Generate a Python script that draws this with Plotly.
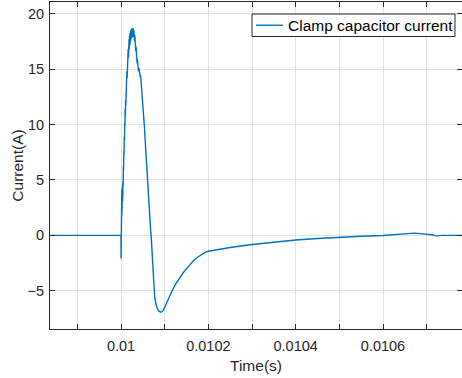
import plotly.graph_objects as go

# Clamp capacitor current waveform, time given in microseconds after t = 10 ms
time_us = [
    -170.0, -0.5, 0.0, 0.15, 0.3, 0.45, 0.6, 0.75, 0.9, 1.05, 1.2, 1.35, 1.5, 1.65,
    1.8, 1.95, 2.1, 2.25, 2.4, 2.55, 2.7, 2.85, 3.0, 3.2, 3.4, 3.6, 3.8, 4.0,
    4.5, 5.0, 5.5, 6.0, 6.5, 7.0, 7.5, 8.0, 8.5, 9.0, 9.5, 10.0, 10.5, 11.0, 11.5,
    12.0, 12.5, 13.0, 13.5, 14.0, 14.5, 15.0, 15.5, 16.0, 16.5, 17.0, 17.5, 18.0,
    18.5, 19.0, 19.5, 20.0, 20.5, 21.0, 21.5, 22.0, 22.5, 23.0, 23.5, 24.0, 24.5,
    25.0, 25.5, 26.0, 26.5, 27.0, 27.5, 28.0, 28.5, 29.0, 29.5, 30.0, 30.5, 31.0,
    31.5, 32.0, 32.5, 33.0, 33.5, 34.0, 34.5, 35.0, 35.5, 36.0, 36.5, 37.0, 37.5,
    38.0, 38.5, 39.0, 39.5, 40.0, 41.0, 42.0, 43.0, 44.0, 45.0, 46.0, 47.0, 48.0,
    49.0, 50.0, 51.0, 52.0, 53.0, 54.0, 55.0, 56.0, 57.0, 58.0, 59.0, 60.0, 61.0,
    62.0, 63.0, 64.0, 65.0, 66.0, 67.0, 68.0, 69.0, 71.0, 73.0, 75.0, 77.0, 80.0,
    83.0, 87.0, 91.0, 95.0, 99.0, 104.0, 110.0, 117.0, 125.0, 133.0, 142.0, 150.0,
    158.0, 167.0, 176.0, 185.0, 193.0, 200.0, 210.0, 250.0, 300.0, 350.0, 400.0,
    450.0, 500.0, 550.0, 600.0, 615.0, 630.0, 645.0, 660.0, 672.0, 685.0, 700.0,
    712.0, 722.0, 735.0, 790.0,
]
current_a = [
    0.0, 0.0, 0.0, -2.1, 2.2, 0.2, 3.0, 0.5, 3.4, 0.9, 3.8, 1.2, 4.0, 1.5,
    4.1, 1.8, 4.2, 2.2, 4.0, 2.4, 4.3, 2.6, 4.1, 2.9, 4.4, 3.1, 4.6, 3.4,
    4.9, 4.5, 6.2, 5.9, 7.6, 7.3, 8.9, 8.6, 10.1, 9.8, 11.4, 10.8, 12.2, 11.7, 13.1,
    12.7, 14.0, 13.5, 14.8, 14.2, 15.6, 14.9, 16.2, 15.4, 16.8, 16.0, 17.3, 16.4,
    17.7, 16.8, 18.0, 17.1, 18.2, 17.3, 18.4, 17.5, 18.5, 17.7, 18.6, 17.8, 18.6,
    17.9, 18.7, 18.0, 18.6, 17.9, 18.7, 18.0, 18.6, 17.9, 18.5, 17.7, 18.4, 17.5,
    18.1, 17.2, 17.8, 16.9, 17.4, 16.6, 17.0, 16.2, 16.6, 15.8, 16.2, 15.5, 15.9,
    15.2, 15.6, 15.0, 15.3, 14.8, 15.1, 14.6, 14.8, 14.3, 14.4, 13.9, 13.7, 13.0,
    12.5, 11.9, 11.3, 10.8, 10.1, 9.6, 8.8, 8.1, 7.3, 6.7, 5.8, 5.0, 4.2,
    3.6, 2.9, 2.4, 1.8, 1.4, 0.8, 0.4, 0.0, -1.6, -3.4, -4.7, -5.5, -6.2,
    -6.6, -6.85, -6.93, -6.85, -6.6, -6.15, -5.6, -5.0, -4.4, -3.9, -3.4, -3.0,
    -2.62, -2.25, -1.95, -1.7, -1.53, -1.43, -1.36, -1.1, -0.83, -0.6, -0.42,
    -0.28, -0.17, -0.08, -0.02, 0.02, 0.08, 0.15, 0.2, 0.2, 0.15, 0.1,
    0.05, -0.05, 0.0, 0.0,
]

time_s = [0.01 + u * 1e-6 for u in time_us]

x_tick_vals = [0.0099, 0.0100, 0.0101, 0.0102, 0.0103, 0.0104, 0.0105, 0.0106, 0.0107]
x_tick_text = ["", "0.01", "", "0.0102", "", "0.0104", "", "0.0106", ""]
y_tick_vals = [-5, 0, 5, 10, 15, 20]

series_name = "Clamp capacitor current"
line_col = "#0072BD"
axis_col = "#262626"
grid_col = "#e3e3e3"
font_family = "Liberation Sans, Arial, sans-serif"

fig = go.Figure()
fig.add_trace(go.Scatter(
    x=time_s, y=current_a, mode="lines",
    name=series_name, showlegend=False,
    line=dict(color=line_col, width=1.4),
))

axis_common = dict(
    showline=True, linecolor=axis_col, linewidth=1, mirror="ticks",
    ticks="inside", ticklen=5, tickcolor=axis_col, tickwidth=1,
    showgrid=True, gridcolor=grid_col, gridwidth=1,
    zeroline=False,
    tickfont=dict(family=font_family, size=14.5, color=axis_col),
)

fig.update_xaxes(
    range=[0.0098374, 0.0107809],
    tickmode="array", tickvals=x_tick_vals, ticktext=x_tick_text,
    ticklabelstandoff=4,
    title=dict(text="Time(s)", font=dict(family=font_family, size=15.5, color=axis_col), standoff=6),
    **axis_common,
)
fig.update_yaxes(
    range=[-8.45, 21.05],
    tickmode="array", tickvals=y_tick_vals,
    ticklabelstandoff=2,
    title=dict(text="Current(A)", font=dict(family=font_family, size=15.5, color=axis_col), standoff=0),
    **axis_common,
)

# Legend box in the upper right corner of the axes (paper coordinates)
leg_x0, leg_x1 = 0.4903, 0.9830
leg_y0, leg_y1 = 0.8945, 0.9633
leg_mid = (leg_y0 + leg_y1) / 2
fig.add_shape(type="rect", xref="paper", yref="paper",
              x0=leg_x0, x1=leg_x1, y0=leg_y0, y1=leg_y1,
              line=dict(color=axis_col, width=1), fillcolor="white", layer="above")
fig.add_shape(type="line", xref="paper", yref="paper",
              x0=0.500, x1=0.5655, y0=leg_mid, y1=leg_mid,
              line=dict(color=line_col, width=1.4), layer="above")
fig.add_annotation(xref="paper", yref="paper", x=0.5730, y=leg_mid,
                   xanchor="left", yanchor="middle", showarrow=False,
                   text=series_name,
                   font=dict(family=font_family, size=15.5, color="#000000"))

fig.update_layout(
    width=462, height=378,
    margin=dict(l=50, r=0, t=2, b=49),
    plot_bgcolor="white", paper_bgcolor="white",
    showlegend=False,
)

fig.write_html("out.html")
